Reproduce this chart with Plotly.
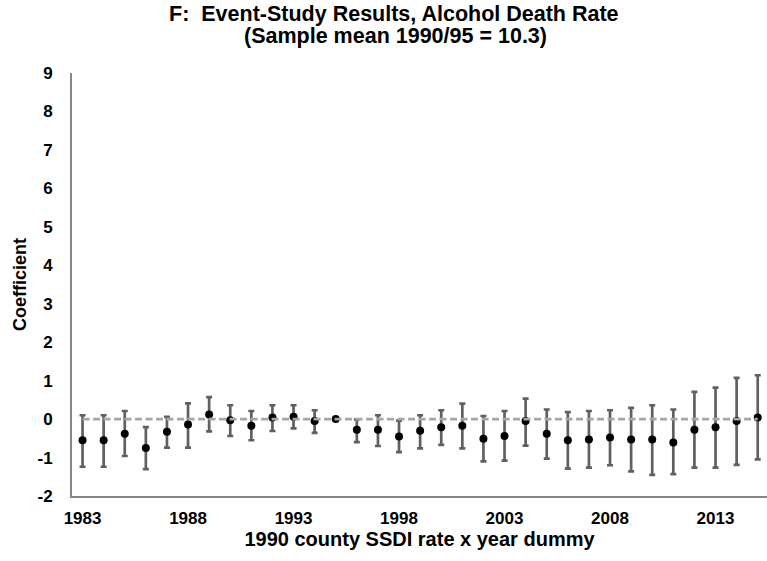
import plotly.graph_objects as go

years = list(range(1983, 2016))
coef = [-0.55, -0.55, -0.38, -0.75, -0.33, -0.14, 0.12, -0.03,
        -0.17, 0.04, 0.06, -0.05, 0.0, -0.28, -0.28, -0.45,
        -0.30, -0.21, -0.17, -0.51, -0.44, -0.05, -0.38, -0.55,
        -0.53, -0.48, -0.53, -0.53, -0.61, -0.28, -0.21, -0.05, 0.04]
ci_hi = [0.10, 0.10, 0.21, -0.21, 0.06, 0.41, 0.57, 0.36,
         0.21, 0.36, 0.36, 0.23, 0.0, -0.01, 0.10, -0.04,
         0.10, 0.23, 0.40, 0.08, 0.21, 0.53, 0.25, 0.18,
         0.21, 0.23, 0.29, 0.36, 0.25, 0.71, 0.82, 1.07, 1.14]
ci_lo = [-1.24, -1.24, -0.96, -1.30, -0.74, -0.74, -0.32, -0.44,
         -0.55, -0.31, -0.24, -0.36, 0.0, -0.60, -0.70, -0.86,
         -0.76, -0.67, -0.76, -1.10, -1.08, -0.69, -1.03, -1.29,
         -1.26, -1.20, -1.36, -1.45, -1.43, -1.26, -1.26, -1.19, -1.05]
x_ticks = [1983, 1988, 1993, 1998, 2003, 2008, 2013]
y_ticks = list(range(-2, 10))
y_tick_text = [str(v) for v in y_ticks]  # plain hyphen minus like the reference

title_line1 = "F:\u00a0 Event-Study Results, Alcohol Death Rate"
title_line2 = "(Sample mean 1990/95 = 10.3)"

err_plus = [h - c for h, c in zip(ci_hi, coef)]
err_minus = [c - l for l, c in zip(ci_lo, coef)]

FONT = "Liberation Sans, Arial, sans-serif"

fig = go.Figure()
fig.add_trace(go.Scatter(
    x=years, y=coef, mode="markers",
    marker=dict(color="black", size=8),
    error_y=dict(type="data", symmetric=False, array=err_plus, arrayminus=err_minus,
                 color="#606060", thickness=2.7, width=3),
    showlegend=False,
))
fig.add_trace(go.Scatter(
    x=years, y=[0] * len(years), mode="lines",
    line=dict(color="#a6a6a6", width=2.6, dash="7px,3.5px"),
    showlegend=False, hoverinfo="skip",
))

# plot area: y px 73..496 -> paper 1..0
def py(px):
    return (496 - px) / 423.0

fig.add_annotation(text="<b>" + title_line1 + "</b>", xref="paper", yref="paper",
                   x=(394 - 72) / 695.0, y=py(13.5), xanchor="center", yanchor="middle",
                   showarrow=False, font=dict(family=FONT, size=21.5, color="black"))
fig.add_annotation(text="<b>" + title_line2 + "</b>", xref="paper", yref="paper",
                   x=(395 - 72) / 695.0, y=py(36), xanchor="center", yanchor="middle",
                   showarrow=False, font=dict(family=FONT, size=21.5, color="black"))

fig.update_layout(
    width=767, height=561,
    margin=dict(l=72, r=0, t=73, b=65),
    paper_bgcolor="white", plot_bgcolor="white",
    font=dict(family=FONT, color="black"),
    xaxis=dict(
        range=[1982.5, 2015.44], tickmode="array", tickvals=x_ticks,
        ticktext=["<b>%d</b>" % t for t in x_ticks],
        showgrid=False, zeroline=False, showline=True, linecolor="#868686", linewidth=2,
        ticks="outside", ticklen=6, tickcolor="rgba(0,0,0,0)",
        tickfont=dict(family=FONT, size=17, color="black"),
        title=dict(text="<b>1990 county SSDI rate x year dummy</b>", standoff=5,
                   font=dict(family=FONT, size=20, color="black")),
    ),
    yaxis=dict(
        range=[-2, 9], tickmode="array", tickvals=y_ticks,
        ticktext=["<b>%s</b>" % t for t in y_tick_text],
        showgrid=False, zeroline=False, showline=True, linecolor="#868686", linewidth=2,
        ticks="outside", ticklen=14, tickcolor="rgba(0,0,0,0)",
        tickfont=dict(family=FONT, size=17, color="black"),
        title=dict(text="<b>Coefficient</b>", standoff=6,
                   font=dict(family=FONT, size=18, color="black")),
    ),
)

fig.write_html("out.html")
